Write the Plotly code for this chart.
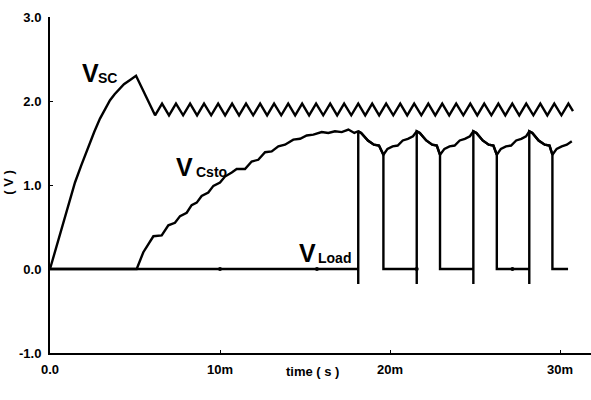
import plotly.graph_objects as go

# time in ms, voltage in V
vsc_t = [0.0, 0.59, 1.18, 1.47, 1.85, 2.18, 2.60, 2.94, 3.24, 3.53, 3.80, 4.05, 4.35, 4.71, 5.06,
         6.18, 6.59, 7.00, 7.41, 7.83, 8.24, 8.65, 9.06, 9.48, 9.89, 10.30, 10.71,
         11.12, 11.53, 11.95, 12.36, 12.77, 13.18, 13.60, 14.01, 14.42, 14.83,
         15.24, 15.65, 16.07, 16.48, 16.89, 17.30, 17.72, 18.13, 18.54, 18.95,
         19.36, 19.77, 20.19, 20.60, 21.01, 21.42, 21.84, 22.25, 22.66, 23.07,
         23.48, 23.89, 24.31, 24.72, 25.13, 25.54, 25.96, 26.37, 26.78, 27.19,
         27.60, 28.01, 28.43, 28.84, 29.25, 29.66, 30.08, 30.49, 30.76]
vsc_v = [0.0, 0.42, 0.83, 1.03, 1.24, 1.42, 1.63, 1.79, 1.91, 2.01, 2.08, 2.14, 2.20, 2.25, 2.30,
         1.83, 1.97, 1.83, 1.97, 1.83, 1.97, 1.83, 1.97, 1.83, 1.97, 1.83, 1.97,
         1.83, 1.97, 1.83, 1.97, 1.83, 1.97, 1.83, 1.97, 1.83, 1.97,
         1.83, 1.97, 1.83, 1.97, 1.83, 1.97, 1.83, 1.97, 1.83, 1.97,
         1.83, 1.97, 1.83, 1.97, 1.83, 1.97, 1.83, 1.97, 1.83, 1.97,
         1.83, 1.97, 1.83, 1.97, 1.83, 1.97, 1.83, 1.97, 1.83, 1.97,
         1.83, 1.97, 1.83, 1.97, 1.83, 1.97, 1.83, 1.97, 1.88]

vcsto_t = [0.0, 5.10, 5.49, 6.08, 6.57, 6.96, 7.35, 7.65, 8.04, 8.33, 8.63, 8.92,
           9.31, 9.61, 10.00, 10.29, 10.69, 10.98, 11.47, 11.86, 12.25, 12.65,
           13.04, 13.43, 13.82, 14.31, 14.71, 15.10, 15.49, 15.98, 16.37, 16.76,
           17.16, 17.55, 17.90, 18.13, 18.30, 18.70, 19.05, 19.35, 19.61, 19.85,
           20.15, 20.45, 20.75, 21.05, 21.35, 21.57, 21.75, 22.13, 22.48, 22.75,
           22.94, 23.20, 23.50, 23.80, 24.10, 24.40, 24.70, 24.90, 25.08, 25.45,
           25.80, 26.08, 26.28, 26.52, 26.82, 27.12, 27.42, 27.72, 28.00, 28.19,
           28.37, 28.74, 29.10, 29.38, 29.55, 29.80, 30.10, 30.40, 30.69]
vcsto_v = [0.0, 0.0, 0.20, 0.39, 0.40, 0.52, 0.55, 0.63, 0.67, 0.76, 0.79, 0.87,
           0.91, 0.99, 1.03, 1.10, 1.15, 1.19, 1.19, 1.28, 1.30, 1.39,
           1.40, 1.46, 1.48, 1.54, 1.55, 1.59, 1.60, 1.63, 1.62, 1.64,
           1.63, 1.66, 1.62, 1.64, 1.62, 1.53, 1.48, 1.47, 1.36, 1.43,
           1.46, 1.47, 1.53, 1.55, 1.58, 1.64, 1.62, 1.53, 1.48, 1.47,
           1.36, 1.43, 1.46, 1.47, 1.53, 1.55, 1.58, 1.64, 1.62, 1.53,
           1.48, 1.47, 1.36, 1.43, 1.46, 1.47, 1.53, 1.55, 1.58, 1.64,
           1.62, 1.53, 1.48, 1.47, 1.36, 1.43, 1.46, 1.48, 1.52]

load_on_t = [18.13, 21.57, 24.90, 28.19]
load_off_t = [19.61, 22.94, 26.28, 29.55]
load_end_t = 30.47
load_spike_v = -0.18

marker_t = [10.0, 15.7, 21.57, 27.2]
marker_v = [0.0, 0.0, 0.0, 0.0]

x_tickvals = [0, 10, 20, 30]
x_ticktext = ["0.0", "10m", "20m", "30m"]
y_tickvals = [-1, 0, 1, 2, 3]
y_ticktext = ["-1.0", "0.0", "1.0", "2.0", "3.0"]

# Build VLoad: zero when off; follows VCsto during on-intervals
load_t = [0.0]
load_v = [0.0]
for on, off in zip(load_on_t, load_off_t):
    load_t += [on, on, on]
    on_idx = vcsto_t.index(on)
    load_v += [0.0, load_spike_v, vcsto_v[on_idx]]
    for tt, vv in zip(vcsto_t, vcsto_v):
        if on < tt <= off:
            load_t.append(tt)
            load_v.append(vv)
    load_t.append(off)
    load_v.append(0.0)
load_t.append(load_end_t)
load_v.append(0.0)

line = dict(color="black", width=2.4)
fig = go.Figure()
fig.add_trace(go.Scatter(x=vsc_t, y=vsc_v, mode="lines", line=line))
fig.add_trace(go.Scatter(x=vcsto_t, y=vcsto_v, mode="lines", line=line))
fig.add_trace(go.Scatter(x=load_t, y=load_v, mode="lines", line=line))
fig.add_trace(go.Scatter(x=marker_t, y=marker_v, mode="markers",
                         marker=dict(color="black", size=4)))

FONT = "Liberation Sans"
tf = dict(family=FONT, size=13, color="black", weight="bold")

fig.update_layout(
    width=591, height=400,
    margin=dict(l=50, r=0, t=17, b=47),
    paper_bgcolor="white", plot_bgcolor="white",
    showlegend=False,
    xaxis=dict(range=[0, 31.82], tickvals=x_tickvals, ticktext=x_ticktext,
               showgrid=False, zeroline=False, showline=True, linecolor="black",
               linewidth=2, ticks="inside", ticklen=3, tickwidth=1, tickcolor="black",
               tickfont=tf, ticklabelstandoff=3),
    yaxis=dict(range=[-1, 3], tickvals=y_tickvals, ticktext=y_ticktext,
               showgrid=False, zeroline=False, showline=True, linecolor="black",
               linewidth=2, ticks="inside", ticklen=3, tickwidth=1, tickcolor="black",
               tickfont=tf, ticklabelstandoff=4),
)

big = dict(family=FONT, size=25, color="black", weight="bold")
small = dict(family=FONT, size=14, color="black", weight="bold")

def label(x, y, text, font):
    fig.add_annotation(x=x, y=y, xref="x", yref="y", text=text, showarrow=False,
                       xanchor="left", yanchor="middle", font=font, borderpad=0)

label(1.80, 2.33, "V", big)
label(2.78, 2.27, "SC", small)
label(7.35, 1.22, "V", big)
label(8.50, 1.16, "Csto", small)
label(14.60, 0.19, "V", big)
label(15.70, 0.13, "Load", small)

fig.add_annotation(x=-0.0758, y=0.51, xref="paper", yref="paper", text="( V )",
                   textangle=-90, showarrow=False, xanchor="center", yanchor="middle",
                   font=dict(family=FONT, size=13, color="black", weight="bold"))
fig.add_annotation(x=0.486, y=-0.0565, xref="paper", yref="paper", text="time ( s )",
                   showarrow=False, xanchor="center", yanchor="middle",
                   font=dict(family=FONT, size=13, color="black", weight="bold"))

fig.write_html("out.html")
